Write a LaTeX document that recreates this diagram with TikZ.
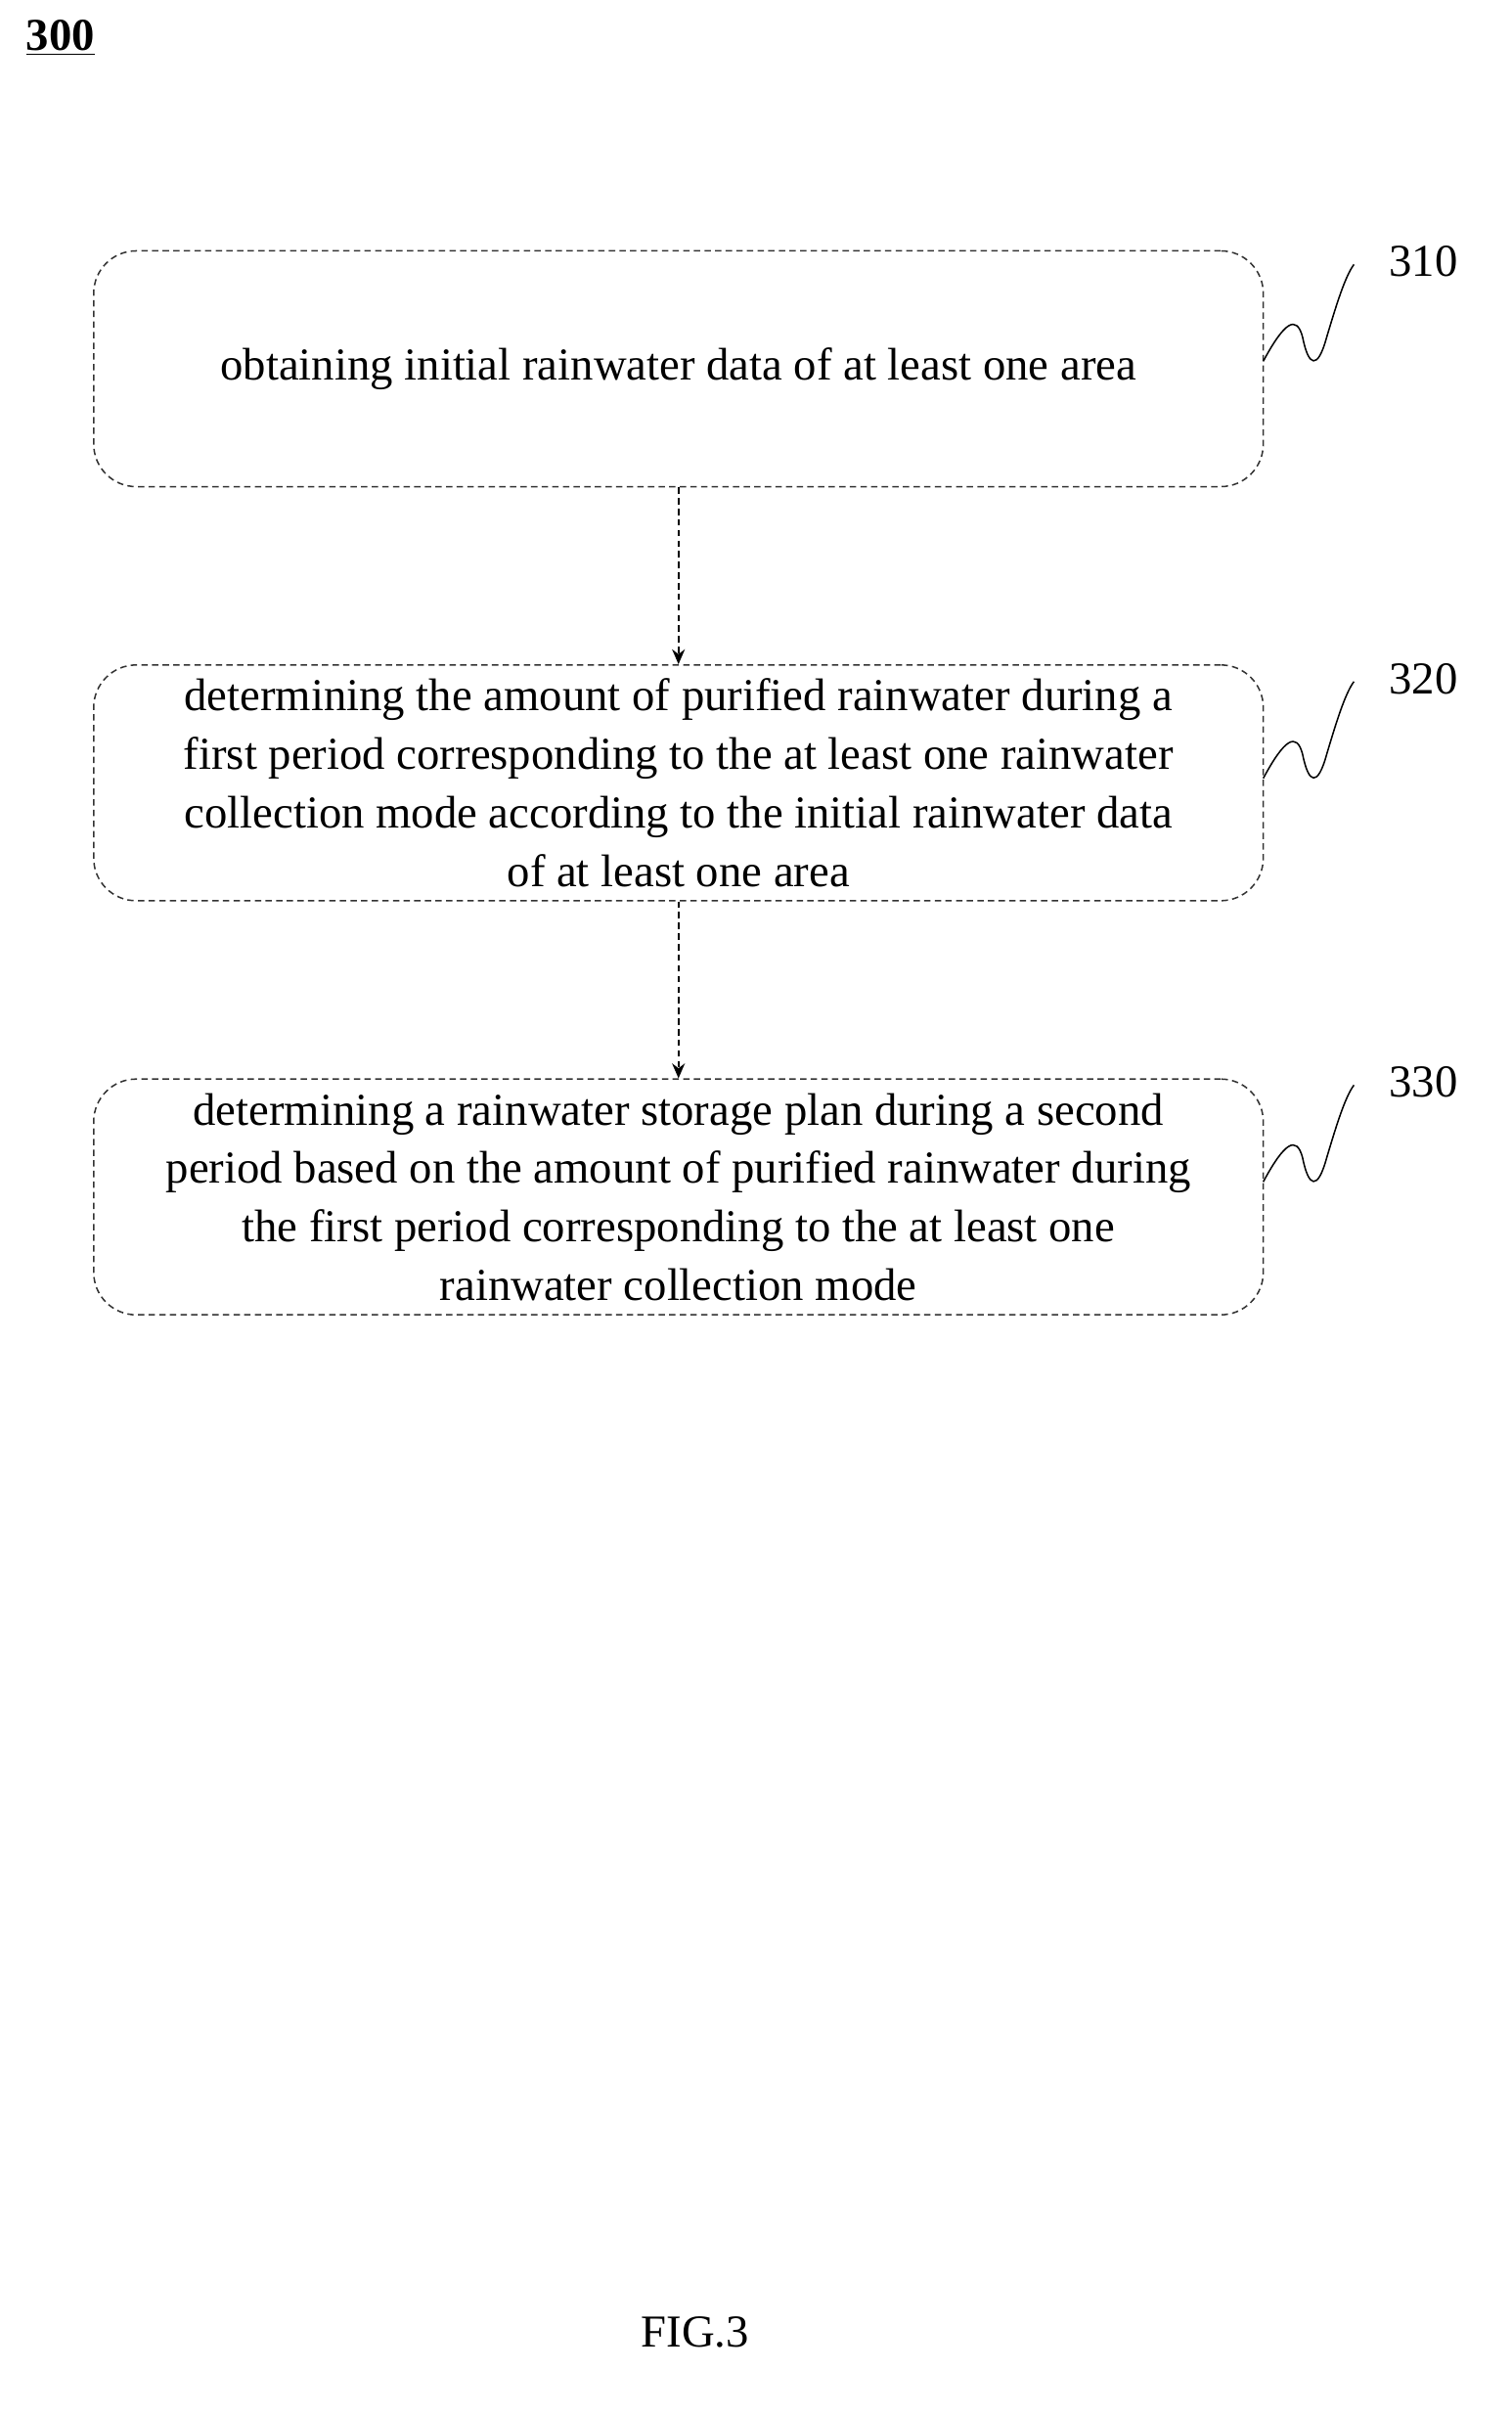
\documentclass[tikz,border=0pt]{standalone}
\usepackage{fontspec}
\setmainfont{Liberation Serif}
\usetikzlibrary{positioning}
\tikzset{
  stepbox/.style={draw=black!80, densely dashed, line width=0.7pt, rounded corners=20pt,
    minimum width=774*0.025cm, minimum height=156*0.025cm, align=center,
    font=\fontsize{21.5}{27.5}\selectfont},
  flow/.style={-{Stealth[length=7pt,width=6pt]}, densely dashed, line width=0.8pt},
  tag/.style={font=\fontsize{21.5}{24}\selectfont},
  squig/.style={line width=0.7pt}
}
\usetikzlibrary{arrows.meta}
\begin{document}
\begin{tikzpicture}[x=0.025cm, y=-0.025cm]
  \useasboundingbox (0,0) rectangle (1000,1598);
  \node[font=\bfseries\fontsize{21.5}{24}\selectfont] (fig) at (40,25) {\underline{300}};

  \node[stepbox] (s310) at (449,244) {obtaining initial rainwater data of at least one area};
  \node[stepbox] (s320) at (449,518) {determining the amount of purified rainwater during a\\ first period corresponding to the at least one rainwater\\ collection mode according to the initial rainwater data\\ of at least one area};
  \node[stepbox] (s330) at (449,792) {determining a rainwater storage plan during a second\\ period based on the amount of purified rainwater during\\ the first period corresponding to the at least one\\ rainwater collection mode};

  \draw[flow] (s310) -- (s320);
  \draw[flow] (s320) -- (s330);

  % reference numbers with squiggles
  \foreach \n/\y in {310/173, 320/449, 330/716}{
    \node[tag] (t\n) at (942,\y) {\n};
    \draw[squig] (836,\y+66) .. controls (850,\y+40) and (858,\y+35) .. (862,\y+50)
      .. controls (866,\y+70) and (872,\y+72) .. (878,\y+50)
      .. controls (884,\y+30) and (890,\y+10) .. (896,\y+2);
  }

  \node[tag] (cap) at (460,1543) {FIG.3};
\end{tikzpicture}
\end{document}
